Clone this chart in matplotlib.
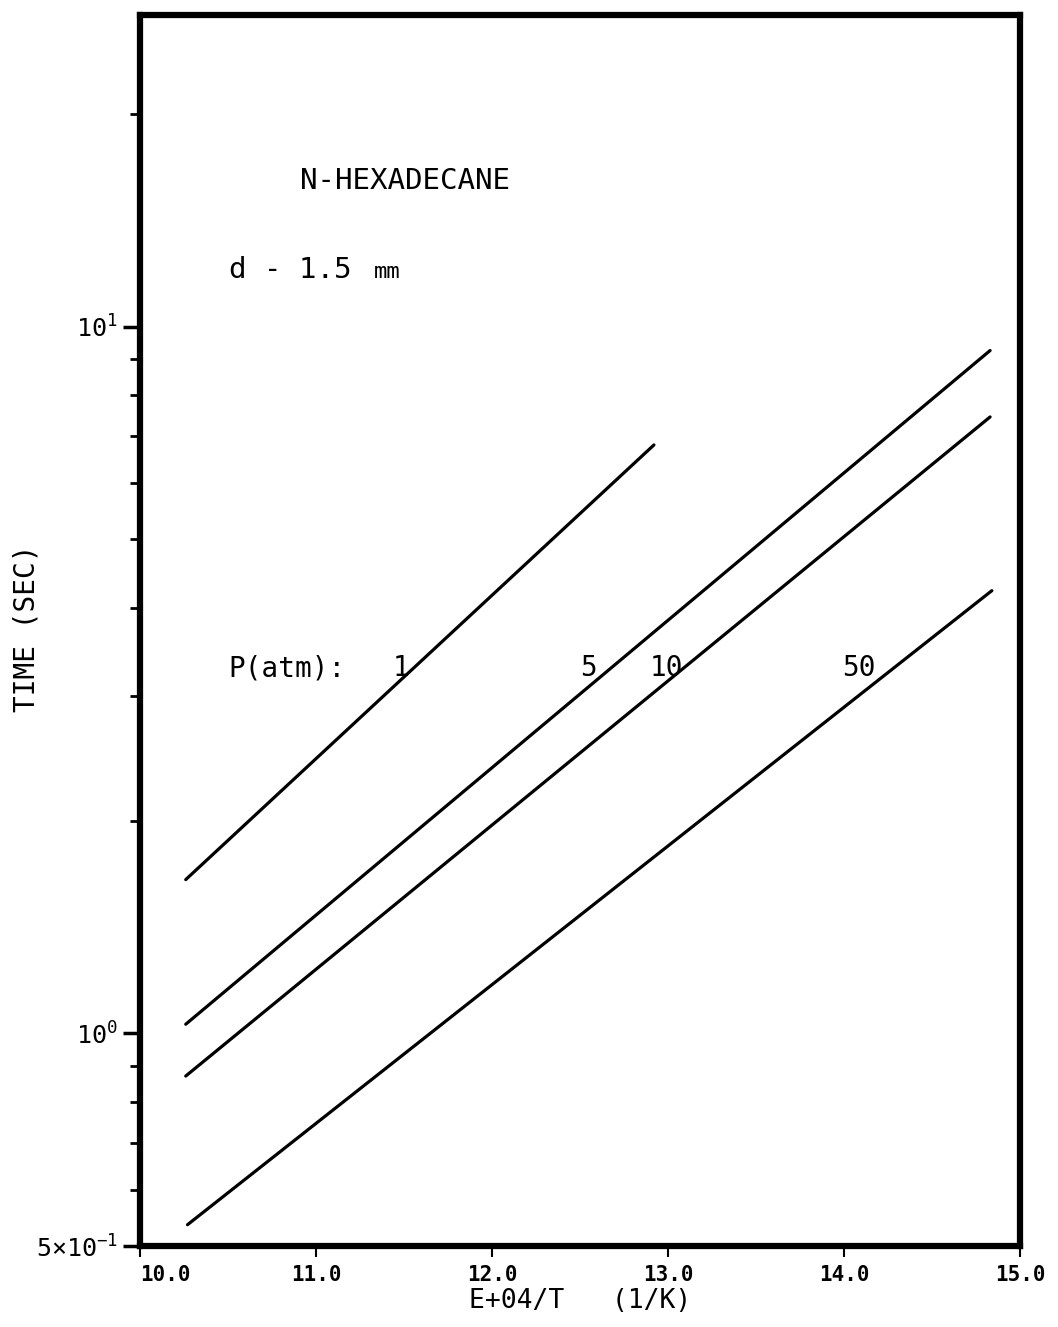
import numpy as np
import matplotlib.pyplot as plt
from matplotlib.ticker import FixedLocator, NullFormatter

# Ignition delay lines, end points (1e4/T, time in s)
pressures = ['1', '5', '10', '50']
x_start = [10.26, 10.26, 10.26, 10.27]
x_end = [12.92, 14.83, 14.83, 14.84]
t_start = [1.65, 1.03, 0.870, 0.536]
t_end = [6.80, 9.25, 7.45, 4.23]

xticks = [10.0, 11.0, 12.0, 13.0, 14.0, 15.0]
xtick_labels = ['10.0', '11.0', '12.0', '13.0', '14.0', '15.0']
yticks = [0.5, 1.0, 10.0]
ytick_labels = [r'5$\times$10$^{-1}$', r'10$^{0}$', r'10$^{1}$']
yminor = [0.6, 0.7, 0.8, 0.9, 2, 3, 4, 5, 6, 7, 8, 9, 20]

plt.rcParams['font.family'] = ['DejaVu Sans Mono']
plt.rcParams['mathtext.fontset'] = 'custom'
plt.rcParams['mathtext.rm'] = 'DejaVu Sans Mono'
plt.rcParams['mathtext.default'] = 'rm'

fig = plt.figure(figsize=(10.58, 13.27), dpi=100)
ax = fig.add_axes([0.1323, 0.0610, 0.8318, 0.9277])

for i in range(len(pressures)):
    ax.plot([x_start[i], x_end[i]], [t_start[i], t_end[i]],
            color='black', linewidth=2.3, solid_capstyle='round')

ax.set_yscale('log')
ax.set_xlim(10.0, 15.0)
ax.set_ylim(0.5, 27.6)

ax.set_xticks(xticks)
ax.set_xticklabels(xtick_labels, fontsize=15, fontweight='bold')
ax.yaxis.set_major_locator(FixedLocator(yticks))
ax.set_yticklabels(ytick_labels, fontsize=18)
ax.yaxis.set_minor_locator(FixedLocator(yminor))
ax.yaxis.set_minor_formatter(NullFormatter())

ax.tick_params(axis='x', direction='out', length=8, width=1.5, pad=6)
ax.tick_params(axis='y', which='major', direction='out', length=12, width=2.5, pad=4)
ax.tick_params(axis='y', which='minor', direction='out', length=7, width=2)
xl = ax.get_xticklabels()
xl[0].set_horizontalalignment('left')

for s in ax.spines.values():
    s.set_linewidth(4.5)

ax.set_xlabel('E+04/T   (1/K)', fontsize=19, labelpad=2)
ax.set_ylabel('TIME (SEC)', fontsize=20)
ax.yaxis.set_label_coords(-0.113, 0.502)

fig.text(300 / 1058, 1 - 181 / 1327, 'N-HEXADECANE', fontsize=21, va='center')
fig.text(229 / 1058, 1 - 270 / 1327, 'd - 1.5', fontsize=21, va='center')
fig.text(374 / 1058, 1 - 272 / 1327, 'mm', fontsize=16, va='center')

label_y = 1 - 668 / 1327
fig.text(228 / 1058, label_y, 'P(atm):', fontsize=20, va='center')
label_x = [393, 580, 650, 842]
for lx, p in zip(label_x, pressures):
    fig.text(lx / 1058, label_y, p, fontsize=20, va='center')

fig.savefig('out.png', dpi=100)
